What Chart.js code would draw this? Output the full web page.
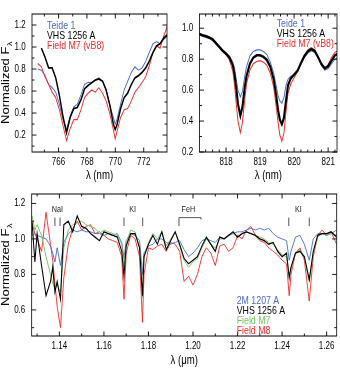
<!DOCTYPE html>
<html><head><meta charset="utf-8">
<script src="https://cdn.jsdelivr.net/npm/chart.js@4.4.1/dist/chart.umd.min.js"></script>
<style>
html,body{margin:0;padding:0;background:#fff;width:340px;height:368px;overflow:hidden}
canvas{position:absolute}
</style></head><body>
<canvas id="cA" width="222" height="186" style="left:0;top:0;width:222px;height:186px"></canvas>
<canvas id="cB" width="210" height="186" style="left:172px;top:0;width:210px;height:186px"></canvas>
<canvas id="cC" width="425" height="188" style="left:0;top:180px;width:425px;height:188px"></canvas>
<script>
const SQ = 0.8; // horizontal compression of the whole figure
const FONT = '"Liberation Sans", Arial, Helvetica, sans-serif';
const BLUE = '#4a6cc8', RED = '#ee2b2b', GREEN = '#72c35a', BLACK = '#000000';

// ---------- Panel A : K I 766/770 nm ----------
const lamA = [764.54,764.79,765.04,765.30,765.55,765.80,766.06,766.31,766.56,766.82,767.07,767.32,767.58,767.83,768.08,768.34,768.59,768.84,769.10,769.35,769.60,769.86,769.99,770.11,770.37,770.62,770.87,771.13,771.38,771.63,771.89,772.14,772.39,772.65,772.90,773.15,773.41,773.66];
const teideA = [0.80,0.79,0.745,0.66,0.63,0.59,0.48,0.34,0.25,0.37,0.455,0.48,0.565,0.66,0.68,0.675,0.70,0.72,0.69,0.61,0.48,0.36,0.30,0.34,0.48,0.61,0.69,0.77,0.82,0.79,0.81,0.87,0.95,1.03,1.05,1.03,1.07,1.10];
const vhsA = [null,0.99,0.91,0.81,0.81,0.72,0.56,0.37,0.22,0.36,0.44,0.45,0.52,0.62,0.65,0.675,0.70,0.71,0.69,0.61,0.48,0.30,0.25,0.29,0.44,0.54,0.58,0.66,0.72,0.74,0.77,0.81,0.87,0.95,1.01,1.03,1.08,1.11];
const fieldM7A = [0.85,0.82,0.73,0.66,0.59,0.54,0.43,0.29,0.15,0.26,0.34,0.34,0.43,0.54,0.58,0.61,0.59,0.63,0.58,0.51,0.40,0.25,0.165,0.23,0.36,0.43,0.44,0.51,0.59,0.63,0.68,0.73,0.83,0.95,1.01,0.99,1.10,1.19];
const xTicksA = [766,768,770,772];
const xMinorA = [765,767,769,771,773];
const yTicksA = [0.2,0.4,0.6,0.8,1.0,1.2];
const yMinorA = [0.1,0.3,0.5,0.7,0.9,1.1];

// ---------- Panel B : Na I 818/819 nm ----------
const lamB = [817.2,817.3,817.4,817.5,817.6,817.7,817.8,817.9,818.0,818.1,818.2,818.25,818.3,818.35,818.42,818.48,818.55,818.6,818.7,818.8,818.9,819.0,819.1,819.2,819.3,819.4,819.47,819.53,819.58,819.64,819.7,819.76,819.82,819.9,820.0,820.1,820.2,820.3,820.4,820.5,820.6,820.7,820.8,820.9,821.0,821.1,821.2,821.3];
const teideB = [0.955,0.95,0.94,0.935,0.92,0.90,0.875,0.855,0.84,0.82,0.78,0.74,0.67,0.60,0.555,0.59,0.69,0.75,0.82,0.85,0.86,0.86,0.85,0.83,0.78,0.71,0.63,0.56,0.53,0.515,0.55,0.63,0.67,0.69,0.70,0.72,0.77,0.81,0.84,0.855,0.845,0.81,0.76,0.73,0.74,0.77,0.80,0.81];
const vhsB = [0.965,0.955,0.95,0.94,0.93,0.905,0.88,0.855,0.835,0.81,0.76,0.70,0.61,0.51,0.435,0.49,0.62,0.69,0.77,0.81,0.825,0.825,0.815,0.795,0.75,0.67,0.57,0.47,0.41,0.38,0.42,0.53,0.63,0.675,0.70,0.725,0.775,0.82,0.85,0.865,0.855,0.815,0.77,0.74,0.755,0.79,0.825,0.835];
const fieldM7B = [0.965,0.955,0.945,0.94,0.925,0.905,0.875,0.85,0.83,0.795,0.72,0.63,0.51,0.40,0.325,0.39,0.54,0.64,0.73,0.77,0.785,0.79,0.78,0.76,0.71,0.62,0.50,0.39,0.31,0.27,0.32,0.46,0.58,0.64,0.68,0.72,0.77,0.82,0.86,0.875,0.86,0.82,0.77,0.735,0.765,0.81,0.845,0.855];
const xTicksB = [818,819,820,821];
const xMinorB = [817.4,817.6,817.8,818.2,818.4,818.6,818.8,819.2,819.4,819.6,819.8,820.2,820.4,820.6,820.8,821.2];
const yTicksB = [0.2,0.4,0.6,0.8,1.0];
const yMinorB = [0.3,0.5,0.7,0.9];

// ---------- Panel C : J band ----------
const lamC = [1.1277,1.129,1.130,1.132,1.134,1.136,1.137,1.138,1.139,1.1405,1.142,1.144,1.146,1.148,1.150,1.152,1.154,1.156,1.158,1.160,1.162,1.164,1.166,1.168,1.169,1.170,1.172,1.174,1.176,1.1773,1.178,1.180,1.182,1.184,1.186,1.188,1.190,1.192,1.194,1.196,1.198,1.200,1.202,1.204,1.206,1.208,1.210,1.212,1.214,1.216,1.218,1.220,1.222,1.224,1.226,1.228,1.230,1.232,1.234,1.236,1.238,1.240,1.242,1.2432,1.244,1.246,1.248,1.250,1.2522,1.254,1.256,1.258,1.260,1.262,1.2645];
const m1207C = [1.02,1.03,1.02,1.01,1.00,0.96,0.92,0.87,0.95,0.85,0.98,1.03,1.05,1.04,1.05,1.04,1.04,1.03,1.03,1.02,1.03,1.02,1.03,0.98,0.89,0.99,1.03,1.02,0.99,0.80,0.92,0.96,0.97,1.00,1.00,0.98,0.97,0.98,0.99,0.94,0.90,0.92,0.95,0.99,1.00,0.99,0.98,1.01,1.00,1.02,1.03,1.04,1.04,1.05,1.06,1.05,1.06,1.05,1.06,1.03,1.01,1.00,0.99,0.88,0.93,1.01,1.02,0.97,0.88,1.00,1.03,1.03,1.02,1.03,1.05];
const vhsC = [1.10,0.87,1.03,0.85,0.68,0.76,0.84,0.70,0.76,0.66,1.08,1.10,1.04,1.13,1.07,1.06,1.03,1.01,0.99,1.04,1.03,1.02,1.01,0.93,0.79,0.96,1.03,1.03,0.95,0.68,0.90,0.97,1.02,0.97,1.04,0.94,0.99,1.04,0.97,0.89,0.86,0.88,0.90,0.96,1.01,0.97,0.93,1.01,1.00,1.02,1.04,1.01,1.03,1.04,1.03,1.02,1.00,0.99,0.97,0.98,0.93,0.90,0.92,0.78,0.84,0.92,0.93,0.90,0.77,0.93,1.02,1.03,1.03,1.04,1.01];
const fieldM7C = [1.13,1.05,1.08,1.02,0.90,0.80,0.75,0.72,0.74,0.70,0.95,1.05,1.08,1.09,1.10,1.08,1.07,1.06,1.03,1.05,1.04,1.03,1.02,0.97,0.84,0.97,1.05,1.04,0.95,0.67,0.90,0.98,1.03,1.00,1.04,0.96,1.00,1.04,0.96,0.88,0.84,0.87,0.89,0.95,1.00,0.97,0.95,1.00,1.00,1.02,1.03,1.01,1.03,1.04,1.03,1.02,1.01,1.00,0.98,0.97,0.94,0.91,0.90,0.79,0.83,0.92,0.94,0.89,0.76,0.92,1.01,1.03,1.02,1.03,1.02];
const fieldM8C = [1.09,1.03,1.00,0.93,1.15,0.97,0.88,0.75,0.62,0.50,0.78,0.97,1.06,1.10,1.05,1.07,1.08,1.03,1.04,1.02,1.00,0.99,0.98,0.90,0.66,0.92,1.02,1.00,0.90,0.53,0.80,0.95,0.94,0.96,0.97,0.93,0.98,0.97,0.93,0.76,0.79,0.74,0.80,0.90,0.95,0.92,0.85,0.96,0.97,0.93,0.95,1.02,1.00,1.05,1.07,1.02,0.99,0.98,0.95,0.93,0.91,0.88,0.86,0.68,0.80,0.92,0.95,0.88,0.65,0.90,1.02,1.05,1.02,1.04,0.97];
const xTicksC = [1.14,1.16,1.18,1.20,1.22,1.24,1.26];
const xMinorC = [1.13,1.15,1.17,1.19,1.21,1.23,1.25];
const yTicksC = [0.6,0.8,1.0,1.2];
const yMinorC = [0.5,0.7,0.9,1.1];
// line identifications
const lineMarksC = [1.1380,1.1403,1.1690,1.1774,1.2430,1.2522];
const lineLabelsC = ['NaI','KI','FeH','KI'];
const lineLabelPosC = [1.1391,1.1729,1.1979,1.2473];
const fehBandC = [1.1937,1.2036];

const pts = (xs, ys) => xs.map((x, i) => ({x: x, y: ys[i]}));

// squeeze every drawing horizontally, like the (non-uniformly scaled) original figure
const squeezePlugin = {
  id: 'squeeze',
  beforeDraw(chart) { chart.ctx.save(); chart.ctx.setTransform(SQ, 0, 0, 1, 0, 0); },
  afterDraw(chart) { chart.ctx.restore(); }
};

const framePlugin = {
  id: 'frame',
  afterDatasetsDraw(chart, args, o) {
    const ctx = chart.ctx, a = chart.chartArea, xs = chart.scales.x, ys = chart.scales.y;
    ctx.save();
    ctx.strokeStyle = '#000'; ctx.lineWidth = 1;
    ctx.strokeRect(a.left, a.top, a.right - a.left, a.bottom - a.top);
    const seg = (x1, y1, x2, y2) => { ctx.beginPath(); ctx.moveTo(x1, y1); ctx.lineTo(x2, y2); ctx.stroke(); };
    const M = 4.5, m = 2.5;
    const xt = (vals, len) => vals.forEach(v => { const p = xs.getPixelForValue(v); seg(p, a.bottom, p, a.bottom - len); seg(p, a.top, p, a.top + len); });
    const yt = (vals, len) => vals.forEach(v => { const p = ys.getPixelForValue(v); seg(a.left, p, a.left + len / SQ, p); seg(a.right, p, a.right - len / SQ, p); });
    xt(o.xMajor, M); xt(o.xMinor, m); yt(o.yMajor, M); yt(o.yMinor, m);
    if (o.marks) {
      ctx.strokeStyle = '#444'; ctx.lineWidth = 1;
      const yTop = ys.getPixelForValue(o.markTop), yBot = ys.getPixelForValue(o.markBottom);
      o.marks.forEach(v => { const p = xs.getPixelForValue(v); seg(p, yTop, p, yBot); });
      const f0 = xs.getPixelForValue(o.band[0]), f1 = xs.getPixelForValue(o.band[1]);
      seg(f0, yBot, f0, yTop); seg(f0, yTop, f1, yTop); seg(f1, yTop, f1, yTop + 2);
      ctx.fillStyle = '#222'; ctx.font = '9px ' + FONT; ctx.textAlign = 'center'; ctx.textBaseline = 'middle';
      const yl = ys.getPixelForValue(o.labelY);
      o.labels.forEach((t, i) => ctx.fillText(t, xs.getPixelForValue(o.labelPos[i]), yl));
    }
    ctx.font = o.legFont + 'px ' + FONT; ctx.textAlign = 'left'; ctx.textBaseline = 'middle';
    chart.data.datasets.forEach((d, i) => {
      ctx.fillStyle = d.borderColor;
      ctx.fillText(d.label, a.left + o.legX, a.top + o.legY + i * o.legDY);
    });
    if (o.ytitle) {
      ctx.save();
      ctx.translate(o.ytitleX, (a.top + a.bottom) / 2);
      ctx.rotate(-Math.PI / 2);
      ctx.fillStyle = '#000';
      ctx.font = '13px ' + FONT;
      const t1 = 'Normalized F', w1 = ctx.measureText(t1).width;
      ctx.font = '9px ' + FONT;
      const w2 = ctx.measureText('λ').width;
      const x0 = -(w1 + w2) / 2;
      ctx.textAlign = 'left'; ctx.textBaseline = 'alphabetic';
      ctx.font = '13px ' + FONT; ctx.fillText(t1, x0, 4.5);
      ctx.font = '9px ' + FONT; ctx.fillText('λ', x0 + w1 + 0.5, 7.5);
      ctx.restore();
    }
    ctx.restore();
  }
};

function build(id, opt) {
  return new Chart(document.getElementById(id), {
    type: 'line',
    data: { datasets: opt.series.map(s => ({ label: s.name, data: pts(opt.lam, s.values), borderColor: s.color, backgroundColor: s.color, borderWidth: s.width, pointRadius: 0, tension: 0, fill: false, order: s.order })) },
    options: {
      responsive: false, animation: false, devicePixelRatio: 1,
      layout: { padding: opt.pad },
      plugins: { legend: { display: false }, tooltip: { enabled: false }, frame: opt.frame },
      scales: {
        x: { type: 'linear', min: opt.xmin, max: opt.xmax,
             grid: { display: false, drawTicks: false }, border: { display: false },
             ticks: { font: { family: FONT, size: 10 }, color: '#000', padding: 4, maxRotation: 0, autoSkip: false, includeBounds: false, callback: opt.xfmt },
             afterBuildTicks: s => { s.ticks = opt.xTicks.map(v => ({ value: v })); },
             afterFit: s => { s.height = opt.xh; },
             title: { display: true, text: opt.xtitle, font: { family: FONT, size: 12 }, color: '#000', padding: { top: 0, bottom: opt.tpb } } },
        y: { type: 'linear', min: opt.ymin, max: opt.ymax,
             grid: { display: false, drawTicks: false }, border: { display: false },
             ticks: { font: { family: FONT, size: 10 }, color: '#000', padding: 8, autoSkip: false, includeBounds: false, callback: v => Number(v).toFixed(1) },
             afterBuildTicks: s => { s.ticks = opt.yTicks.map(v => ({ value: v })); },
             afterFit: s => { s.width = opt.yw; } }
      }
    },
    plugins: [squeezePlugin, framePlugin]
  });
}

build('cA', {
  lam: lamA, xmin: 764.13, xmax: 773.64, ymin: 0.046, ymax: 1.30,
  xTicks: xTicksA, yTicks: yTicksA, xfmt: v => String(v), xtitle: 'λ (nm)',
  pad: { left: 0, right: 13.25, top: 1, bottom: 0 }, yw: 40, xh: 34, tpb: 3.3,
  series: [
    { name: 'Teide 1', values: teideA, color: BLUE, width: 1.1, order: 2 },
    { name: 'VHS 1256 A', values: vhsA, color: BLACK, width: 1.8, order: 0 },
    { name: 'Field M7 (vB8)', values: fieldM7A, color: RED, width: 1.1, order: 1 }
  ],
  frame: { xMajor: xTicksA, xMinor: xMinorA, yMajor: yTicksA, yMinor: yMinorA, legFont: 11, legX: 18.75, legY: 12.3, legDY: 9.8, ytitle: true, ytitleX: 7 }
});

build('cB', {
  lam: lamB, xmin: 817.22, xmax: 821.26, ymin: 0.2, ymax: 1.092,
  xTicks: xTicksB, yTicks: yTicksB, xfmt: v => String(v), xtitle: 'λ (nm)',
  pad: { left: 0, right: 3.75, top: 1, bottom: 0 }, yw: 34.4, xh: 34, tpb: 3.3,
  series: [
    { name: 'Teide 1', values: teideB, color: BLUE, width: 1.2, order: 2 },
    { name: 'VHS 1256 A', values: vhsB, color: BLACK, width: 2.6, order: 0 },
    { name: 'Field M7 (vB8)', values: fieldM7B, color: RED, width: 1.2, order: 1 }
  ],
  frame: { xMajor: xTicksB, xMinor: xMinorB, yMajor: yTicksB, yMinor: yMinorB, legFont: 11, legX: 96.5, legY: 10, legDY: 10, ytitle: false }
});

build('cC', {
  lam: lamC, xmin: 1.12756, xmax: 1.26452, ymin: 0.453, ymax: 1.253,
  xTicks: xTicksC, yTicks: yTicksC, xfmt: v => Number(v).toFixed(2), xtitle: 'λ (μm)',
  pad: { left: 0, right: 4.125, top: 5, bottom: 0 }, yw: 39.6, xh: 32, tpb: 0,
  series: [
    { name: '2M 1207 A', values: m1207C, color: BLUE, width: 1.0, order: 2 },
    { name: 'VHS 1256 A', values: vhsC, color: BLACK, width: 1.3, order: 0 },
    { name: 'Field M7', values: fieldM7C, color: GREEN, width: 1.0, order: 1 },
    { name: 'Field M8', values: fieldM8C, color: RED, width: 1.0, order: 3 }
  ],
  frame: { xMajor: xTicksC, xMinor: xMinorC, yMajor: yTicksC, yMinor: yMinorC, legFont: 11, legX: 256.25, legY: 106.7, legDY: 10.2, ytitle: true, ytitleX: 7,
           marks: lineMarksC, markTop: 1.120, markBottom: 1.0726, band: fehBandC, labels: lineLabelsC, labelPos: lineLabelPosC, labelY: 1.164 }
});
</script></body></html>
